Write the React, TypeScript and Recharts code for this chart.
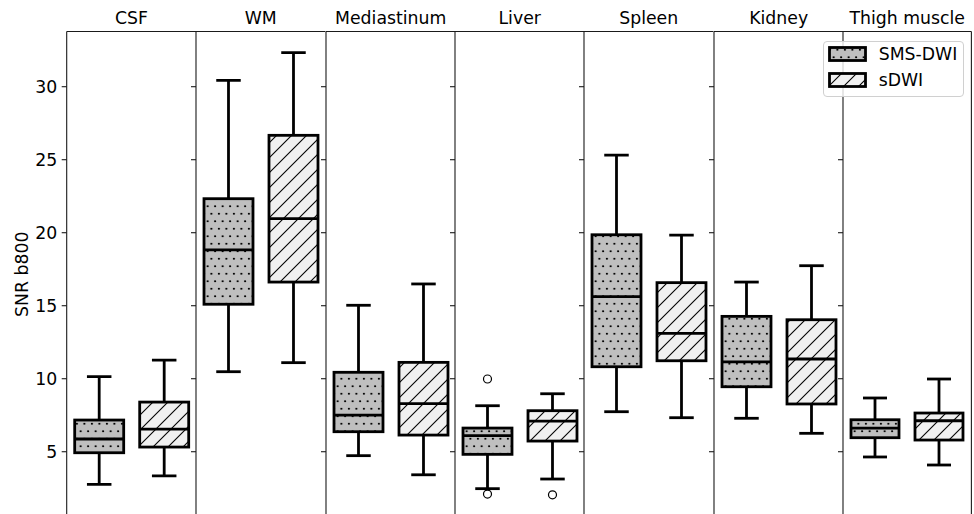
import { Bar, ComposedChart, Label, Legend, XAxis, YAxis } from "recharts"

const regions = ["CSF", "WM", "Mediastinum", "Liver", "Spleen", "Kidney", "Thigh muscle"]
const seriesNames = ["SMS-DWI", "sDWI"]
const yTicks = [5, 10, 15, 20, 25, 30]

// SMS-DWI box stats, one entry per region
const smsLow = [2.77, 10.48, 4.73, 2.47, 7.74, 7.29, 4.64]
const smsQ1 = [4.93, 15.1, 6.37, 4.82, 10.82, 9.45, 5.96]
const smsMed = [5.87, 18.82, 7.51, 6.1, 15.62, 11.16, 6.62]
const smsQ3 = [7.17, 22.33, 10.44, 6.62, 19.86, 14.27, 7.19]
const smsHigh = [10.14, 30.44, 15.03, 8.15, 25.32, 16.62, 8.68]
const smsFliers = [[], [], [], [9.98, 2.1], [], [], []]

// sDWI box stats
const sdwiLow = [3.34, 11.1, 3.42, 3.13, 7.33, 6.26, 4.09]
const sdwiQ1 = [5.32, 16.62, 6.14, 5.73, 11.23, 8.27, 5.8]
const sdwiMed = [6.55, 20.96, 8.29, 7.1, 13.11, 11.35, 7.12]
const sdwiQ3 = [8.4, 26.67, 11.12, 7.81, 16.58, 14.04, 7.65]
const sdwiHigh = [11.28, 32.33, 16.49, 8.97, 19.84, 17.74, 9.98]
const sdwiFliers = [[], [], [], [2.05], [], [], []]

const PLOT_LEFT = 66.7
const PANEL_W = 129.4
const TITLE_H = 31.5
const CHART_H = 517
const Y_DOMAIN: [number, number] = [0.53, 33.78]
const SPINE = "#1a1a1a"
const LW = 2.8
const FONT = 17.3

type Stats = { lo: number; q1: number; med: number; q3: number; hi: number; fliers: number[] }

const range = (s: Stats): [number, number] => [Math.min(s.lo, ...s.fliers), Math.max(s.hi, ...s.fliers)]

const rows = regions.map((region, i) => {
  const sms: Stats = { lo: smsLow[i], q1: smsQ1[i], med: smsMed[i], q3: smsQ3[i], hi: smsHigh[i], fliers: smsFliers[i] }
  const sdwi: Stats = { lo: sdwiLow[i], q1: sdwiQ1[i], med: sdwiMed[i], q3: sdwiQ3[i], hi: sdwiHigh[i], fliers: sdwiFliers[i] }
  return { region, sms, sdwi, smsRange: range(sms), sdwiRange: range(sdwi) }
})

function BoxShape(props: any) {
  const { x, y, width, height, payload, group, fill } = props
  const s: Stats = payload[group]
  const [rLo, rHi] = payload[group + "Range"]
  const top = Math.min(y, y + height)
  const bot = Math.max(y, y + height)
  const py = (v: number) => bot - ((v - rLo) / (rHi - rLo)) * (bot - top)
  const cx = x + width / 2
  const cap = width / 4
  return (
    <g>
      <line x1={cx} x2={cx} y1={py(s.q3)} y2={py(s.hi)} stroke="#000" strokeWidth={LW} />
      <line x1={cx} x2={cx} y1={py(s.q1)} y2={py(s.lo)} stroke="#000" strokeWidth={LW} />
      <line x1={cx - cap} x2={cx + cap} y1={py(s.hi)} y2={py(s.hi)} stroke="#000" strokeWidth={LW} />
      <line x1={cx - cap} x2={cx + cap} y1={py(s.lo)} y2={py(s.lo)} stroke="#000" strokeWidth={LW} />
      <rect x={x} y={py(s.q3)} width={width} height={py(s.q1) - py(s.q3)} fill={fill} stroke="#000" strokeWidth={LW} />
      <line x1={x} x2={x + width} y1={py(s.med)} y2={py(s.med)} stroke="#000" strokeWidth={LW} />
      {s.fliers.map((f, k) => (
        <circle key={k} cx={cx} cy={py(f)} r={4} fill="none" stroke="#000" strokeWidth={1.2} />
      ))}
    </g>
  )
}

function Patterns() {
  return (
    <svg width={0} height={0} style={{ position: "absolute" }}>
      <defs>
        <pattern id="dots" width={7.5} height={15} patternUnits="userSpaceOnUse">
          <rect width={7.5} height={15} fill="#bfbfbf" />
          <circle cx={1.9} cy={3.75} r={1.1} fill="#000" />
          <circle cx={5.65} cy={11.25} r={1.1} fill="#000" />
        </pattern>
        <pattern id="hatch" width={15} height={15} patternUnits="userSpaceOnUse">
          <rect width={15} height={15} fill="#f0f0f0" />
          <path d="M0,15 L15,0 M-2,2 L2,-2 M13,17 L17,13" stroke="#000" strokeWidth={1.1} />
        </pattern>
      </defs>
    </svg>
  )
}

function LegendBox() {
  const fills = ["url(#dots)", "url(#hatch)"]
  return (
    <div
      style={{
        position: "relative",
        width: 141,
        height: 56,
        boxSizing: "border-box",
        border: "1px solid #d0d0d0",
        borderRadius: 4,
        background: "rgba(255,255,255,0.8)",
      }}
    >
      {seriesNames.map((name, k) => (
        <div key={name}>
          <svg width={40} height={17} style={{ position: "absolute", left: 4.8, top: 4.6 + k * 25.7 }}>
            <rect x={1.5} y={1.5} width={36} height={13} fill={fills[k]} stroke="#000" strokeWidth={LW} />
          </svg>
          <span
            style={{
              position: "absolute",
              left: 55,
              top: 2.6 + k * 25.7,
              fontSize: FONT,
              lineHeight: "20px",
              color: "#000",
              whiteSpace: "nowrap",
            }}
          >
            {name}
          </span>
        </div>
      ))}
    </div>
  )
}

function Panel({ index }: { index: number }) {
  const first = index === 0
  const last = index === regions.length - 1
  const axisW = first ? PLOT_LEFT : 24
  const rightPad = 4
  const left = PLOT_LEFT + index * PANEL_W - axisW
  return (
    <div style={{ position: "absolute", left, top: 0 }}>
      <ComposedChart
        width={axisW + PANEL_W + rightPad}
        height={CHART_H}
        data={[rows[index]]}
        margin={{ top: 0, right: rightPad, bottom: 0, left: 0 }}
        barCategoryGap={8}
        barGap={16}
      >
        <XAxis
          dataKey="region"
          orientation="top"
          height={TITLE_H}
          interval={0}
          tickLine={false}
          tickSize={0}
          tickMargin={7}
          axisLine={{ stroke: SPINE, strokeWidth: 1.1 }}
          tick={{ fill: "#000", fontSize: FONT }}
        />
        <YAxis
          type="number"
          domain={Y_DOMAIN}
          allowDataOverflow
          ticks={yTicks}
          width={axisW}
          tickSize={5}
          tickMargin={4.5}
          axisLine={{ stroke: SPINE, strokeWidth: 1.1 }}
          tickLine={{ stroke: SPINE, strokeWidth: 1.1 }}
          tick={{ fill: "#000", fontSize: FONT }}
          tickFormatter={first ? (v: number) => String(v) : () => ""}
        >
          {first && <Label value="SNR b800" angle={-90} position="center" dx={-11.5} fill="#000" fontSize={FONT} />}
        </YAxis>
        {last && (
          <YAxis
            yAxisId="right"
            orientation="right"
            type="number"
            domain={Y_DOMAIN}
            width={1}
            tick={false}
            tickLine={false}
            axisLine={{ stroke: SPINE, strokeWidth: 1.1 }}
          />
        )}
        <Bar
          dataKey="smsRange"
          name={seriesNames[0]}
          isAnimationActive={false}
          shape={(p: any) => <BoxShape {...p} group="sms" fill="url(#dots)" />}
        />
        <Bar
          dataKey="sdwiRange"
          name={seriesNames[1]}
          isAnimationActive={false}
          shape={(p: any) => <BoxShape {...p} group="sdwi" fill="url(#hatch)" />}
        />
        {last && (
          <Legend
            layout="vertical"
            align="center"
            verticalAlign="middle"
            wrapperStyle={{ top: 40.7, left: 3.6, width: 141 }}
            content={() => <LegendBox />}
          />
        )}
      </ComposedChart>
    </div>
  )
}

export default function App() {
  return (
    <div
      style={{
        position: "absolute",
        left: 0,
        top: 0,
        width: 974,
        height: 514,
        overflow: "hidden",
        background: "#fff",
        fontFamily: "'DejaVu Sans', sans-serif",
      }}
    >
      <Patterns />
      {regions.map((r, i) => (
        <Panel key={r} index={i} />
      ))}
    </div>
  )
}
